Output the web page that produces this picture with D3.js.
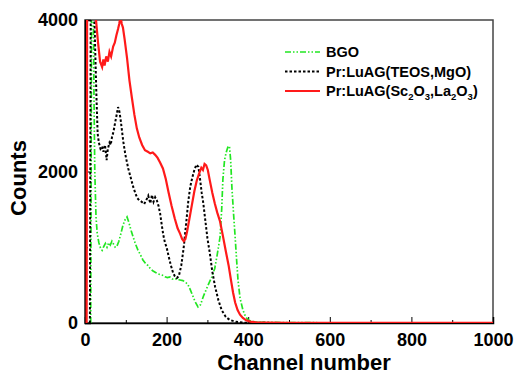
<!DOCTYPE html>
<html>
<head>
<meta charset="utf-8">
<script src="https://cdn.jsdelivr.net/npm/d3@7"></script>
<style>
  body { margin: 0; background: #fff; }
  text { font-family: "Liberation Sans", Arial, sans-serif; font-weight: bold; }
</style>
</head>
<body>
<figure id="spectrum" style="margin:0"></figure>
<script>
// channel / counts
const bgoChannel = [14,17,20,22,24,27,30,34,38,42,46,50,54,58,62,66,70,74,78,83,88,93,98,103,108,113,118,124,130,136,142,148,154,160,166,172,178,184,190,196,202,208,214,220,226,233,240,246,252,258,264,270,277,283,290,300,311,318,324,331,335,338,342,346,350,354,357,360,364,368,372,375,380,387,393,400,410,430,500,600,1000];
const bgoCounts  = [0,6000,4500,3000,2000,1400,1180,1060,990,960,1010,1050,1000,1060,1030,1080,1040,1000,1010,1080,1180,1290,1360,1400,1320,1220,1135,1040,960,900,832,790,760,720,690,670,650,640,630,610,600,607,580,590,575,568,560,540,510,440,360,280,211,240,350,480,610,720,900,1135,1500,1900,2150,2250,2320,2335,2150,1795,1450,1135,800,568,330,172,90,40,20,10,5,3,1];

const teosChannel = [12,15,19,22,25,28,31,34,38,42,45,49,51,53,56,60,63,66,70,74,78,81,84,87,91,94,99,106,112,118,123,128,133,139,145,150,155,160,164,168,172,176,180,184,188,192,196,200,205,210,216,220,225,230,236,242,248,253,258,263,268,273,278,282,286,290,295,300,306,312,319,327,335,345,355,370,390,420,500,1000];
const teosCounts  = [0,6000,5000,4300,3600,3000,2500,2380,2300,2330,2260,2350,2250,2150,2300,2380,2350,2450,2530,2650,2760,2850,2800,2700,2520,2390,2220,2040,1920,1800,1720,1650,1620,1600,1570,1620,1680,1580,1690,1600,1660,1620,1550,1450,1300,1160,1060,1000,880,770,660,620,594,620,760,1000,1320,1600,1800,1920,2020,2090,2060,1900,1720,1580,1350,1120,920,680,475,300,170,80,40,15,5,2,1,0];

const scChannel = [4,6,9,15,22,27,32,37,42,45,48,52,56,60,64,69,73,77,81,84,87,90,93,97,103,109,115,121,127,133,140,147,154,160,166,172,178,184,191,198,205,212,220,227,233,238,242,246,250,256,262,268,274,280,285,289,293,297,301,306,312,318,324,331,338,345,352,358,363,368,374,380,387,395,405,420,450,500,600,800,1000];
const scCounts  = [0,7000,9000,6000,4600,4000,3700,3450,3380,3480,3400,3520,3450,3580,3520,3650,3700,3800,3880,3950,4050,3950,3900,3750,3500,3200,2970,2750,2570,2450,2350,2280,2260,2240,2250,2220,2180,2120,2040,1900,1720,1550,1380,1250,1180,1110,1080,1110,1200,1380,1560,1740,1880,1980,2050,2020,2100,2080,2020,1880,1720,1580,1460,1340,1150,950,760,560,400,270,170,110,66,35,18,8,5,3,2,1,1];

const seriesNames = ["BGO", "Pr:LuAG(TEOS,MgO)", "Pr:LuAG(Sc2O3,La2O3)"];
const xTicks = [0, 200, 400, 600, 800, 1000];
const yTicks = [0, 2000, 4000];

const W = 515, H = 375;
const mLeft = 85, mRight = 493, mTop = 20, mBottom = 323;

const svg = d3.select("#spectrum")
  .append("svg")
  .attr("width", W)
  .attr("height", H);

svg.append("rect").attr("width", W).attr("height", H).attr("fill", "#fff");

const x = d3.scaleLinear().domain([0, 1000]).range([mLeft, mRight]);
const y = d3.scaleLinear().domain([0, 4000]).range([mBottom, mTop]);

svg.append("clipPath").attr("id", "plot")
  .append("rect")
  .attr("x", mLeft).attr("y", mTop)
  .attr("width", mRight - mLeft).attr("height", mBottom - mTop);

// frame
svg.append("rect")
  .attr("x", mLeft).attr("y", mTop)
  .attr("width", mRight - mLeft).attr("height", mBottom - mTop)
  .attr("fill", "none")
  .attr("stroke", "#444")
  .attr("stroke-width", 1.5);

// bottom axis, ticks pointing inward
const xAxis = svg.append("g")
  .attr("transform", "translate(0," + mBottom + ")")
  .call(d3.axisBottom(x).tickValues(xTicks).tickSize(-6).tickPadding(10).tickFormat(d3.format("d")));
xAxis.select(".domain").attr("stroke-width", 1.5);
xAxis.selectAll("text").style("font-size", "18px").attr("fill", "#000");

svg.append("g")
  .attr("transform", "translate(0," + mBottom + ")")
  .call(d3.axisBottom(x).tickValues([100, 300, 500, 700, 900]).tickSize(-3).tickFormat(""))
  .select(".domain").remove();

const yAxis = svg.append("g")
  .attr("transform", "translate(" + mLeft + ",0)")
  .call(d3.axisLeft(y).tickValues(yTicks).tickSize(-6).tickPadding(7).tickFormat(d3.format("d")));
yAxis.select(".domain").attr("stroke-width", 1.5);
yAxis.selectAll("text").style("font-size", "18px").attr("fill", "#000");

svg.append("g")
  .attr("transform", "translate(" + mLeft + ",0)")
  .call(d3.axisLeft(y).tickValues([1000, 3000]).tickSize(-3).tickFormat(""))
  .select(".domain").remove();

// curves
const line = d3.line().x(d => x(d[0])).y(d => y(d[1]));
const curves = [
  { ch: bgoChannel, n: bgoCounts, color: "#22e622", width: 1.7, dash: "6,2,1.5,2,1.5,2" },
  { ch: teosChannel, n: teosCounts, color: "#000", width: 2, dash: "2.5,2" },
  { ch: scChannel, n: scCounts, color: "#ff1a1a", width: 2.2, dash: null }
];

const plot = svg.append("g").attr("clip-path", "url(#plot)");
curves.forEach(c => {
  plot.append("path")
    .datum(c.ch.map((v, i) => [v, c.n[i]]))
    .attr("d", line)
    .attr("fill", "none")
    .attr("stroke", c.color)
    .attr("stroke-width", c.width)
    .attr("stroke-dasharray", c.dash);
});

// legend
const legend = svg.append("g");
curves.forEach((c, i) => {
  const ly = 52 + i * 19.5;
  legend.append("line")
    .attr("x1", 285).attr("x2", 320)
    .attr("y1", ly).attr("y2", ly)
    .attr("stroke", c.color)
    .attr("stroke-width", c.width)
    .attr("stroke-dasharray", c.dash);
  const t = legend.append("text")
    .attr("x", 326).attr("y", ly + 5)
    .style("font-size", "14.5px");
  // subscript digits in the chemical formula
  const parts = seriesNames[i].split(/(\d)/);
  parts.forEach((p, k) => {
    if (p === "") return;
    if (/\d/.test(p)) {
      t.append("tspan").attr("dy", 4).style("font-size", "9.5px").text(p);
    } else {
      t.append("tspan").attr("dy", k > 0 && /\d/.test(parts[k - 1]) ? -4 : 0).text(p);
    }
  });
});

// axis titles
svg.append("text")
  .attr("x", 304).attr("y", 370)
  .attr("text-anchor", "middle")
  .style("font-size", "22px")
  .text("Channel number");

svg.append("text")
  .attr("transform", "translate(26,178) rotate(-90)")
  .attr("text-anchor", "middle")
  .style("font-size", "22px")
  .text("Counts");
</script>
</body>
</html>
